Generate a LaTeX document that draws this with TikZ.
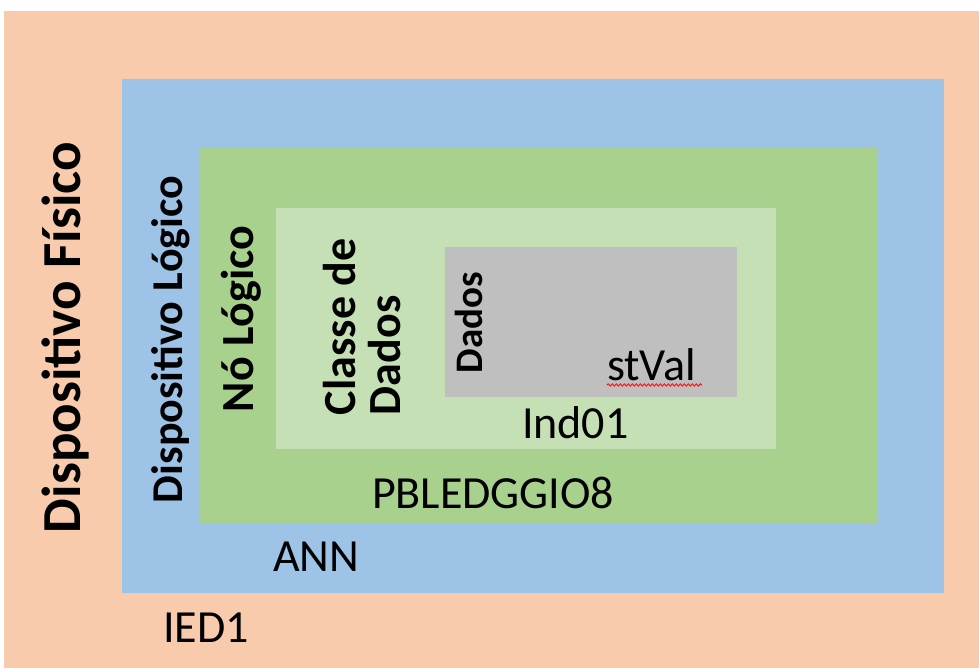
\documentclass[tikz,border=0pt]{standalone}
\usepackage{fontspec}
\setmainfont{Carlito}
\usetikzlibrary{decorations.pathmorphing}

\definecolor{peach}{HTML}{F8CBAD}
\definecolor{skyblue}{HTML}{9DC3E6}
\definecolor{leafgreen}{HTML}{A9D18E}
\definecolor{palegreen}{HTML}{C5E0B4}
\definecolor{midgray}{HTML}{BFBFBF}

\begin{document}
\begin{tikzpicture}[x=1pt,y=-1pt,
  lbl/.style={inner sep=0pt,outer sep=0pt,text=black,font=\fontsize{46}{50}\selectfont},
  vlbl/.style={lbl,rotate=90,anchor=base west,font=\bfseries\fontsize{46}{50}\selectfont},
  hlbl/.style={lbl,anchor=base west}]
  \useasboundingbox (0,0) rectangle (979,668);
  \fill[white] (0,0) rectangle (979,668);

  % nested layers, outermost first
  \fill[peach]     (4,11)    rectangle (979,668);
  \fill[skyblue]   (122,79)  rectangle (944,593);
  \fill[leafgreen] (199,148) rectangle (877,523);
  \fill[palegreen] (276,208) rectangle (776,449);
  \fill[midgray]   (445,247) rectangle (737,397);

  % vertical layer titles
  \node[vlbl,font=\bfseries\fontsize{55}{60}\selectfont] (fisico) at (80,533) {Dispositivo Físico};
  \node[vlbl,font=\bfseries\fontsize{44}{50}\selectfont] (logico) at (182,503) {Dispositivo Lógico};
  \node[vlbl] (no) at (253,412) {Nó Lógico};
  \node[vlbl] (classe) at (355,415) {Classe de};
  \node[vlbl] (classedados) at (400,415) {Dados};
  \node[vlbl,font=\bfseries\fontsize{39}{44}\selectfont] (dados) at (482,373) {Dados};

  % instance names
  \node[hlbl] (ied) at (163,642) {IED1};
  \node[hlbl] (ann) at (273,571) {ANN};
  \node[hlbl] (pbled) at (372,508) {PBLEDGGIO8};
  \node[hlbl] (ind) at (522,438) {Ind01};
  \node[hlbl] (stval) at (607,380) {stVal};

  % spell-check underline
  \draw[red,line width=0.8pt,decorate,decoration={snake,amplitude=1.2pt,segment length=4pt}]
    (607,385) -- (702,385);
\end{tikzpicture}
\end{document}
